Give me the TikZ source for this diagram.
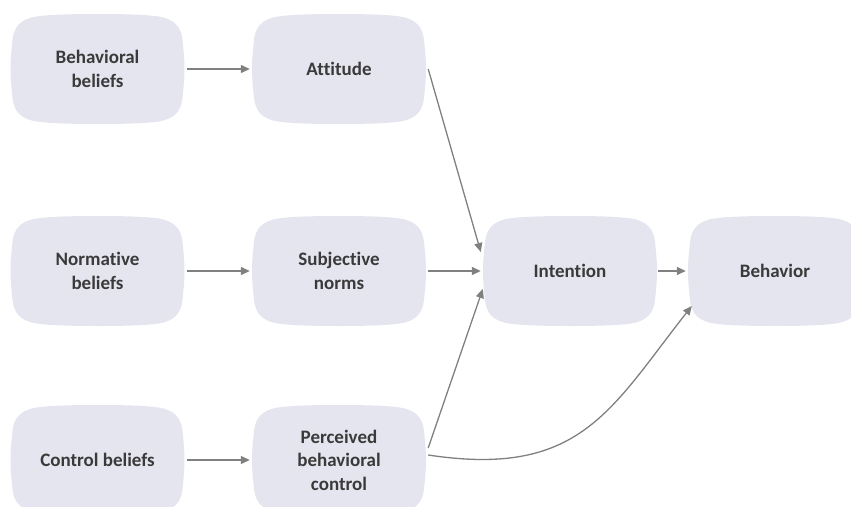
\documentclass[tikz,border=0pt]{standalone}
\usepackage{fontspec}
\setmainfont[Ligatures={NoCommon}]{Carlito}
\usetikzlibrary{arrows.meta,calc}
\definecolor{boxfill}{RGB}{229,229,240}
\definecolor{arrowgray}{RGB}{128,128,128}
\definecolor{txt}{RGB}{58,58,58}
\begin{document}
\begin{tikzpicture}[x=1pt,y=-1pt,
  blob/.pic={
    \fill[boxfill] (0,-55) .. controls (30,-55) and (50,-54.2) .. (61,-52.5)
      .. controls (77,-50) and (83.7,-42) .. (85,-29)
      .. controls (86.2,-17) and (87,-10) .. (87,0)
      .. controls (87,10) and (86.2,17) .. (85,29)
      .. controls (83.7,42) and (77,50) .. (61,52.5)
      .. controls (50,54.2) and (30,55) .. (0,55)
      .. controls (-30,55) and (-50,54.2) .. (-61,52.5)
      .. controls (-77,50) and (-83.7,42) .. (-85,29)
      .. controls (-86.2,17) and (-87,10) .. (-87,0)
      .. controls (-87,-10) and (-86.2,-17) .. (-85,-29)
      .. controls (-83.7,-42) and (-77,-50) .. (-61,-52.5)
      .. controls (-50,-54.2) and (-30,-55) .. (0,-55) -- cycle;
  },
  box/.style={minimum width=174pt, minimum height=110pt, inner sep=0pt,
    align=center, text=txt, font=\fontsize{19}{23.5}\selectfont\bfseries},
  conn/.style={draw=arrowgray, line width=1.3pt,
    -{Triangle[length=9pt,width=8pt]}, fill=none}
]
\useasboundingbox (0,0) rectangle (851,506);
\clip (0,0) rectangle (851,506);
% backgrounds
\foreach \p in {(97.5,69),(339,69),(97.5,271),(339,271),(570,271),(775,271),(97.5,460),(339,460)}
  \pic at \p {blob};
% nodes
\node[box] (bb)  at (97.5,69)  {Behavioral\\beliefs};
\node[box] (att) at (339,69)   {Attitude};
\node[box] (nb)  at (97.5,271) {Normative\\beliefs};
\node[box] (sn)  at (339,271)  {Subjective\\norms};
\node[box] (int) at (570,271)  {Intention};
\node[box] (beh) at (775,271)  {Behavior};
\node[box] (cb)  at (97.5,460) {Control beliefs};
\node[box] (pbc) at (339,460)  {Perceived\\behavioral\\control};
% connectors
\draw[conn] ([xshift=2pt]bb.east) -- ([xshift=-2pt]att.west);
\draw[conn] ([xshift=2pt]nb.east) -- ([xshift=-2pt]sn.west);
\draw[conn] ([xshift=2pt]cb.east) -- ([xshift=-2pt]pbc.west);
\draw[conn] ($(att.east)+(2,0)$) -- ($(int.west)+(-2,-19)$);
\draw[conn] ($(sn.east)+(2,0)$) -- ($(int.west)+(-2,0)$);
\draw[conn] ($(pbc.east)+(2,-12)$) -- ($(int.west)+(0,18)$);
\draw[conn] ($(int.east)+(1,0)$) -- ($(beh.west)+(-2,0)$);
\draw[conn] ($(pbc.east)+(2,-5)$) .. controls (580,478) and (610,410) .. ($(beh.west)+(4,35)$);
\end{tikzpicture}
\end{document}
